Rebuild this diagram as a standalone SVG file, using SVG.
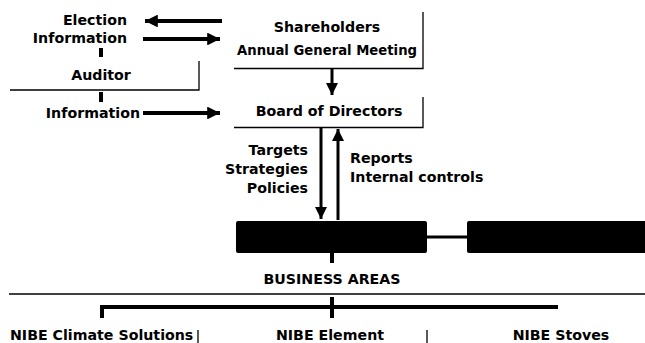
<svg xmlns="http://www.w3.org/2000/svg" width="645" height="343" viewBox="0 0 645 343">
<defs>
<style>
text{font-family:"DejaVu Sans","Liberation Sans",sans-serif;font-weight:700;font-size:14.2px;fill:#000}
.thin{stroke:#000;stroke-width:1.3;fill:none}
.thick{stroke:#000;stroke-width:4;fill:none}
.shaft{stroke:#000;stroke-width:3;fill:none}
</style>
<marker id="ah" viewBox="0 0 10 10" refX="10" refY="5" markerWidth="3.2" markerHeight="3.2" orient="auto" markerUnits="strokeWidth">
<path d="M0,0 L10,5 L0,10 Z" fill="#000"/>
</marker>
<marker id="ah2" viewBox="0 0 10 10" refX="10" refY="5" markerWidth="4" markerHeight="4" orient="auto" markerUnits="strokeWidth">
<path d="M0,0 L10,5 L0,10 Z" fill="#000"/>
</marker>
</defs>
<rect width="645" height="343" fill="#fff"/>
<g id="election">
<text x="127" y="25" text-anchor="end">Election</text>
<text x="127" y="43" text-anchor="end">Information</text>
</g>
<g id="auditor">
<text x="101" y="80" text-anchor="middle">Auditor</text>
<path class="thin" d="M10,90 H199 V61"/>
</g>
<g id="information">
<text x="140" y="118" text-anchor="end">Information</text>
</g>
<g id="shareholders">
<path class="thin" d="M234,68.5 H423 V12"/>
<text x="327" y="32" text-anchor="middle">Shareholders</text>
<text x="327" y="55" text-anchor="middle" font-size="13.4" textLength="180" lengthAdjust="spacingAndGlyphs">Annual General Meeting</text>
</g>
<g id="board">
<path class="thin" d="M234,127.5 H423 V97"/>
<text x="329" y="116" text-anchor="middle">Board of Directors</text>
</g>
<g id="targets">
<text x="308" y="155" text-anchor="end">Targets</text>
<text x="308" y="174" text-anchor="end">Strategies</text>
<text x="308" y="193" text-anchor="end">Policies</text>
</g>
<g id="reports">
<text x="350" y="163">Reports</text>
<text x="350" y="182">Internal controls</text>
</g>
<g id="bars">
<rect x="236" y="221" width="191" height="32" rx="2" fill="#000"/>
<rect x="467" y="221" width="180" height="32" rx="2" fill="#000"/>
</g>
<g id="business-areas">
<text x="332" y="284" text-anchor="middle">BUSINESS AREAS</text>
<path class="thin" d="M9,294 H645"/>
</g>
<g id="nibe-climate">
<text x="10" y="340">NIBE Climate Solutions</text>
<path class="thin" d="M198,330 V343"/>
</g>
<g id="nibe-element">
<text x="330" y="340" text-anchor="middle">NIBE Element</text>
<path class="thin" d="M427,330 V343"/>
</g>
<g id="nibe-stoves">
<text x="561" y="340" text-anchor="middle">NIBE Stoves</text>
</g>
<g id="connectors">
<path class="thick" d="M222,21 H145" marker-end="url(#ah)"/>
<path class="thick" d="M143,39 H220" marker-end="url(#ah)"/>
<path class="thick" d="M143,113 H220" marker-end="url(#ah)"/>
<path class="thick" d="M101,48 V57"/>
<path class="thick" d="M101,92 V102"/>
<path class="shaft" d="M332,69 V95" marker-end="url(#ah2)"/>
<path class="shaft" d="M321,128 V219" marker-end="url(#ah2)"/>
<path class="shaft" d="M338,220 V129" marker-end="url(#ah2)"/>
<path class="shaft" d="M427,237 H467"/>
<path class="thick" d="M332,253 V263"/>
<path class="thick" d="M102,318 V307 H558"/>
<path class="thick" d="M332,297 V318"/>
</g>
</svg>
